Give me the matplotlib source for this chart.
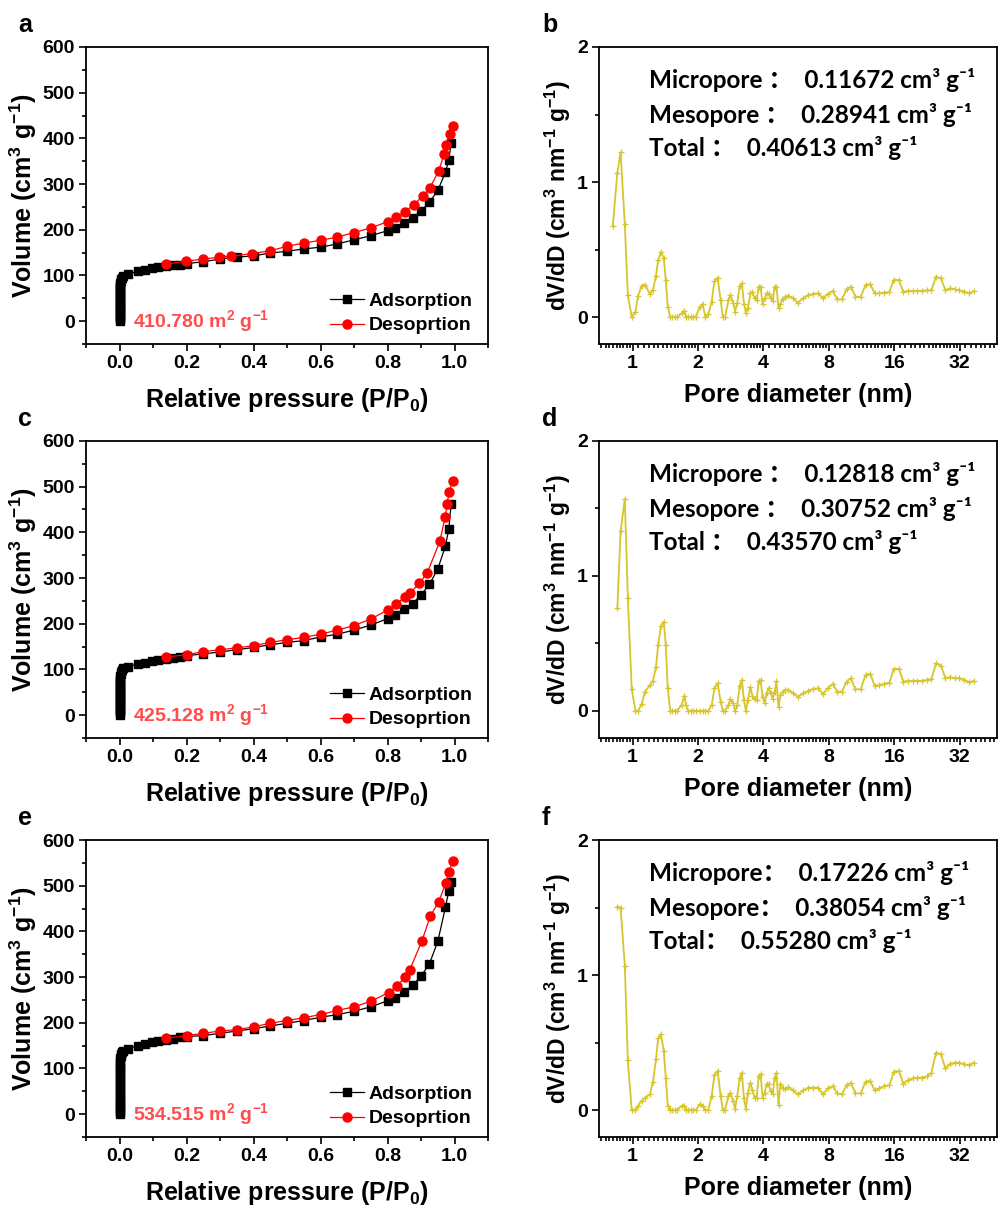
import numpy as np
import matplotlib
matplotlib.use('Agg')
import matplotlib.pyplot as plt
from matplotlib.ticker import MultipleLocator, FixedLocator, FixedFormatter, LogLocator, NullFormatter

plt.rcParams['font.family'] = ['Liberation Sans', 'DejaVu Sans']
plt.rcParams['font.weight'] = 'bold'
plt.rcParams['mathtext.fontset'] = 'custom'
plt.rcParams['mathtext.rm'] = 'Liberation Sans:bold'
plt.rcParams['mathtext.it'] = 'Liberation Sans:bold'
plt.rcParams['mathtext.bf'] = 'Liberation Sans:bold'
plt.rcParams['mathtext.sf'] = 'Liberation Sans:bold'

# ---- N2 isotherms ----
# low-pressure stack of adsorption points (micropore filling)
lo_p = [0.0001, 0.0001, 0.0002, 0.0002, 0.0002, 0.0003, 0.0003, 0.0003, 0.0004, 0.0004,
        0.0005, 0.0005, 0.0006, 0.0007, 0.0008, 0.0009, 0.0010, 0.0012, 0.0014, 0.0017,
        0.0021, 0.0027, 0.0036, 0.0050, 0.0075, 0.0110]
lo_a = [0, 4, 8, 12, 16, 20, 24, 28, 32, 36, 40, 44, 48, 52, 56, 60, 64, 68, 72, 76,
        80, 84, 88, 92, 95, 98]
lo_c = [0, 4, 8, 12, 16, 20, 24, 28, 32, 36, 40, 44, 48, 52, 56, 60, 64, 68, 72, 76,
        80, 85, 90, 95, 99, 102]
lo_e = [0, 5, 10, 15, 20, 26, 32, 38, 44, 50, 56, 62, 68, 74, 80, 86, 92, 98, 104, 110,
        116, 122, 127, 131, 135, 139]

ads_p = [0.026, 0.055, 0.076, 0.096, 0.116, 0.14, 0.16, 0.18, 0.20, 0.25,
         0.30, 0.35, 0.40, 0.45, 0.50, 0.55, 0.60, 0.65, 0.70, 0.75,
         0.80, 0.821, 0.85, 0.875, 0.90, 0.925, 0.95, 0.973, 0.983, 0.99]
ads_a = [103, 109, 113, 116, 118, 120, 122, 124, 126, 130,
         136, 140, 143, 149, 153, 158, 162, 169, 178, 187,
         198, 204, 215, 226, 241, 260, 286, 326, 353, 391]
ads_c = [106, 112, 115, 118, 120, 122, 125, 127, 130, 134,
         138, 143, 148, 154, 159, 163, 171, 177, 186, 197,
         211, 219, 232, 244, 263, 286, 320, 370, 408, 463]
ads_e = [143, 150, 154, 158, 161, 163, 165, 168, 170, 172,
         177, 182, 187, 193, 199, 205, 212, 218, 225, 235,
         248, 255, 267, 282, 302, 329, 378, 453, 489, 509]

des_p_a = [0.996, 0.986, 0.976, 0.969, 0.953, 0.926, 0.906, 0.878, 0.851, 0.826, 0.801, 0.75,
           0.70, 0.65, 0.60, 0.55, 0.50, 0.45, 0.396, 0.333, 0.298, 0.248, 0.198, 0.138]
des_a = [428, 409, 385, 366, 329, 291, 274, 255, 239, 227, 218, 204,
         194, 184, 177, 171, 164, 154, 148, 142, 140, 136, 131, 125]
des_p_c = [0.994, 0.984, 0.978, 0.972, 0.956, 0.919, 0.895, 0.868, 0.853, 0.826, 0.80, 0.75,
           0.70, 0.65, 0.60, 0.55, 0.50, 0.45, 0.40, 0.35, 0.30, 0.25, 0.20, 0.138]
des_c = [512, 489, 462, 433, 380, 312, 288, 268, 259, 243, 230, 210,
         196, 186, 177, 170, 165, 159, 152, 147, 143, 139, 132, 127]
des_p_e = [0.996, 0.983, 0.974, 0.953, 0.928, 0.903, 0.866, 0.853, 0.828, 0.803, 0.75,
           0.70, 0.65, 0.60, 0.55, 0.50, 0.45, 0.40, 0.35, 0.30, 0.25, 0.20, 0.138]
des_e = [555, 531, 506, 465, 434, 380, 315, 300, 281, 266, 247,
         235, 227, 218, 211, 205, 199, 191, 185, 182, 177, 172, 166]

bet_labels = ['410.780 m$^2$ g$^{-1}$', '425.128 m$^2$ g$^{-1}$', '534.515 m$^2$ g$^{-1}$']

# ---- pore size distributions ----
pore_d = [0.81, 0.85, 0.88, 0.92, 0.95, 0.99, 1.03, 1.06, 1.10, 1.14,
          1.20, 1.24, 1.28, 1.31, 1.35, 1.39, 1.42, 1.45, 1.49, 1.52,
          1.56, 1.60, 1.68, 1.73, 1.76, 1.80, 1.85, 1.90, 1.95, 2.04,
          2.10, 2.16, 2.23, 2.31, 2.38, 2.46, 2.54, 2.60, 2.66, 2.76,
          2.82, 2.90, 2.96, 3.03, 3.11, 3.18, 3.25, 3.32, 3.39, 3.48,
          3.56, 3.64, 3.72, 3.80, 3.88, 3.96, 4.05, 4.14, 4.22, 4.31,
          4.41, 4.50, 4.59, 4.69, 4.79, 4.90, 5.00, 5.21, 5.48, 5.76,
          6.10, 6.43, 6.78, 7.12, 7.53, 7.89, 8.33, 8.74, 9.19, 9.65,
          10.1, 10.6, 11.2, 11.8, 12.4, 13.0, 13.6, 14.3, 15.2, 15.9,
          16.8, 17.6, 18.5, 19.5, 20.4, 21.5, 22.6, 23.7, 24.9, 26.2,
          27.5, 28.9, 30.4, 31.9, 33.6, 35.3, 37.1]
psd_b = [0.674, 1.069, 1.22, 0.686, 0.163, 0.0, 0.037, 0.158, 0.232, 0.24,
         0.17, 0.2, 0.306, 0.42, 0.479, 0.44, 0.274, 0.077, 0.0, 0.0,
         0.0, 0.0, 0.027, 0.047, 0.0, 0.0, 0.0, 0.0, 0.0, 0.077,
         0.096, 0.0, 0.022, 0.113, 0.267, 0.291, 0.126, 0.0, 0.0, 0.126,
         0.163, 0.106, 0.04, 0.106, 0.232, 0.25, 0.1, 0.032, 0.064, 0.175,
         0.183, 0.138, 0.126, 0.225, 0.225, 0.096, 0.138, 0.175, 0.17, 0.143,
         0.118, 0.225, 0.225, 0.064, 0.1, 0.133, 0.146, 0.158, 0.138, 0.106,
         0.138, 0.163, 0.17, 0.175, 0.138, 0.17, 0.193, 0.131, 0.131, 0.205,
         0.225, 0.15, 0.15, 0.237, 0.242, 0.175, 0.175, 0.18, 0.185, 0.274,
         0.274, 0.185, 0.193, 0.193, 0.193, 0.193, 0.198, 0.198, 0.299, 0.286,
         0.198, 0.212, 0.205, 0.198, 0.188, 0.175, 0.193]
psd_d = [np.nan, 0.76, 1.33, 1.57, 0.84, 0.163, 0.0, 0.0, 0.052, 0.143,
         0.19, 0.224, 0.323, 0.489, 0.63, 0.661, 0.489, 0.168, 0.0, 0.0,
         0.0, 0.0, 0.044, 0.111, 0.044, 0.0, 0.0, 0.0, 0.0, 0.0,
         0.0, 0.0, 0.0, 0.044, 0.168, 0.205, 0.069, 0.0, 0.0, 0.044,
         0.086, 0.057, 0.0, 0.044, 0.185, 0.23, 0.081, 0.0, 0.081, 0.175,
         0.111, 0.086, 0.081, 0.22, 0.23, 0.1, 0.059, 0.133, 0.168, 0.133,
         0.09, 0.14, 0.22, 0.03, 0.12, 0.143, 0.155, 0.155, 0.13, 0.106,
         0.13, 0.15, 0.163, 0.168, 0.126, 0.168, 0.2, 0.143, 0.143, 0.217,
         0.242, 0.16, 0.16, 0.267, 0.275, 0.185, 0.19, 0.2, 0.21, 0.311,
         0.311, 0.217, 0.222, 0.222, 0.222, 0.222, 0.23, 0.237, 0.353, 0.336,
         0.242, 0.25, 0.242, 0.242, 0.23, 0.212, 0.222]
psd_f = [np.nan, 1.506, 1.50, 1.07, 0.368, 0.0, 0.0, 0.032, 0.07, 0.09,
         0.116, 0.21, 0.375, 0.53, 0.56, 0.44, 0.24, 0.032, 0.0, 0.0,
         0.0, 0.0, 0.032, 0.032, 0.0, 0.0, 0.0, 0.0, 0.0, 0.044,
         0.027, 0.0, 0.0, 0.106, 0.26, 0.289, 0.106, 0.0, 0.0, 0.106,
         0.123, 0.07, 0.007, 0.106, 0.24, 0.277, 0.09, 0.007, 0.128, 0.202,
         0.145, 0.09, 0.09, 0.25, 0.267, 0.09, 0.128, 0.195, 0.19, 0.14,
         0.116, 0.24, 0.274, 0.037, 0.195, 0.165, 0.153, 0.17, 0.145, 0.116,
         0.145, 0.165, 0.165, 0.165, 0.116, 0.16, 0.177, 0.123, 0.116, 0.185,
         0.202, 0.123, 0.123, 0.21, 0.215, 0.145, 0.16, 0.177, 0.185, 0.284,
         0.289, 0.195, 0.22, 0.235, 0.24, 0.24, 0.25, 0.277, 0.425, 0.413,
         0.309, 0.343, 0.35, 0.35, 0.338, 0.333, 0.35]

vol_text_b = ['Micropore \uff1a  0.11672 cm\u00b3 g\u207b\u00b9',
              'Mesopore \uff1a  0.28941 cm\u00b3 g\u207b\u00b9',
              'Total \uff1a  0.40613 cm\u00b3 g\u207b\u00b9']
vol_text_d = ['Micropore \uff1a  0.12818 cm\u00b3 g\u207b\u00b9',
              'Mesopore \uff1a  0.30752 cm\u00b3 g\u207b\u00b9',
              'Total \uff1a  0.43570 cm\u00b3 g\u207b\u00b9']
vol_text_f = ['Micropore\uff1a  0.17226 cm\u00b3 g\u207b\u00b9',
              'Mesopore\uff1a  0.38054 cm\u00b3 g\u207b\u00b9',
              'Total\uff1a  0.55280 cm\u00b3 g\u207b\u00b9']

TICK = 14
LAB = 18
PSD_COLOR = '#d6c62c'


def style_axes(ax):
    for s in ax.spines.values():
        s.set_linewidth(1.3)
    ax.tick_params(which='both', direction='out', width=1.2, labelsize=TICK,
                   top=False, right=False)
    ax.tick_params(which='major', length=5, pad=3)
    ax.tick_params(which='minor', length=3)


def iso_panel(ax, ads_x, ads_y, des_x, des_y, bet):
    ax.plot(ads_x, ads_y, '-s', color='black', ms=6, lw=0.9, label='Adsorption')
    ax.plot(des_x, des_y, '-o', color='red', ms=6.5, lw=0.9, label='Desoprtion')
    ax.set_xlim(-0.1, 1.1)
    ax.set_ylim(-50, 600)
    ax.xaxis.set_major_locator(MultipleLocator(0.2))
    ax.xaxis.set_minor_locator(MultipleLocator(0.1))
    ax.yaxis.set_major_locator(MultipleLocator(100))
    ax.yaxis.set_minor_locator(MultipleLocator(50))
    ax.xaxis.set_major_formatter(matplotlib.ticker.FormatStrFormatter('%.1f'))
    style_axes(ax)
    ax.set_ylabel('Volume (cm$^3$ g$^{-1}$)', fontsize=LAB, fontweight='bold')
    ax.set_xlabel('Relative pressure (P/P$_0$)', fontsize=LAB, fontweight='bold')
    ax.yaxis.set_label_coords(-0.118, 0.5)
    ax.xaxis.set_label_coords(0.5, -0.14)
    ax.text(0.04, 0, bet, color='#ff4d4d', fontsize=TICK, fontweight='bold',
            va='center', ha='left')
    ax.legend(loc='lower right', bbox_to_anchor=(1.0, -0.02), frameon=False,
              fontsize=14, handlelength=1.75, handletextpad=0.25,
              labelspacing=0.35, borderaxespad=0.4)


def psd_panel(ax, y, lines):
    ax.plot(pore_d, y, '-+', color=PSD_COLOR, ms=5, lw=1.3, mew=0.9)
    ax.set_xscale('log', base=2)
    ax.set_xlim(0.70, 47.6)
    ax.set_ylim(-0.2, 2)
    ax.xaxis.set_major_locator(FixedLocator([1, 2, 4, 8, 16, 32]))
    ax.xaxis.set_major_formatter(FixedFormatter(['1', '2', '4', '8', '16', '32']))
    ax.xaxis.set_minor_locator(LogLocator(base=2, subs=np.arange(1.0625, 2.0, 0.0625), numticks=50))
    ax.xaxis.set_minor_formatter(NullFormatter())
    ax.yaxis.set_major_locator(MultipleLocator(1))
    ax.yaxis.set_minor_locator(MultipleLocator(0.5))
    style_axes(ax)
    ax.set_ylabel('dV/dD (cm$^3$ nm$^{-1}$ g$^{-1}$)', fontsize=16.5, fontweight='bold')
    ax.set_xlabel('Pore diameter (nm)', fontsize=LAB, fontweight='bold')
    ax.yaxis.set_label_coords(-0.065, 0.5)
    ax.xaxis.set_label_coords(0.5, -0.13)
    for t, yy in zip(lines, [0.862, 0.745, 0.632]):
        ax.text(0.126, yy, t, transform=ax.transAxes, fontsize=17.5, fontweight='bold',
                family=['Lato', 'Noto Sans CJK SC', 'DejaVu Sans'], va='baseline')


fig = plt.figure(figsize=(9.98, 12.05), dpi=100)
bottoms = [0.7145, 0.3876, 0.0564]
H = 0.2465
left_ax = [fig.add_axes([0.0862, b, 0.4028, H]) for b in bottoms]
right_ax = [fig.add_axes([0.6002, b, 0.3990, H]) for b in bottoms]

iso_panel(left_ax[0], lo_p + ads_p, lo_a + ads_a, des_p_a, des_a, bet_labels[0])
iso_panel(left_ax[1], lo_p + ads_p, lo_c + ads_c, des_p_c, des_c, bet_labels[1])
iso_panel(left_ax[2], lo_p + ads_p, lo_e + ads_e, des_p_e, des_e, bet_labels[2])

psd_panel(right_ax[0], psd_b, vol_text_b)
psd_panel(right_ax[1], psd_d, vol_text_d)
psd_panel(right_ax[2], psd_f, vol_text_f)

for lab, ax in zip('ace', left_ax):
    fig.text(0.018, ax.get_position().y1 + 0.008, lab, fontsize=18, fontweight='bold', va='bottom')
for lab, ax in zip('bdf', right_ax):
    fig.text(0.543, ax.get_position().y1 + 0.008, lab, fontsize=18, fontweight='bold', va='bottom')

fig.savefig('out.png', dpi=100)
